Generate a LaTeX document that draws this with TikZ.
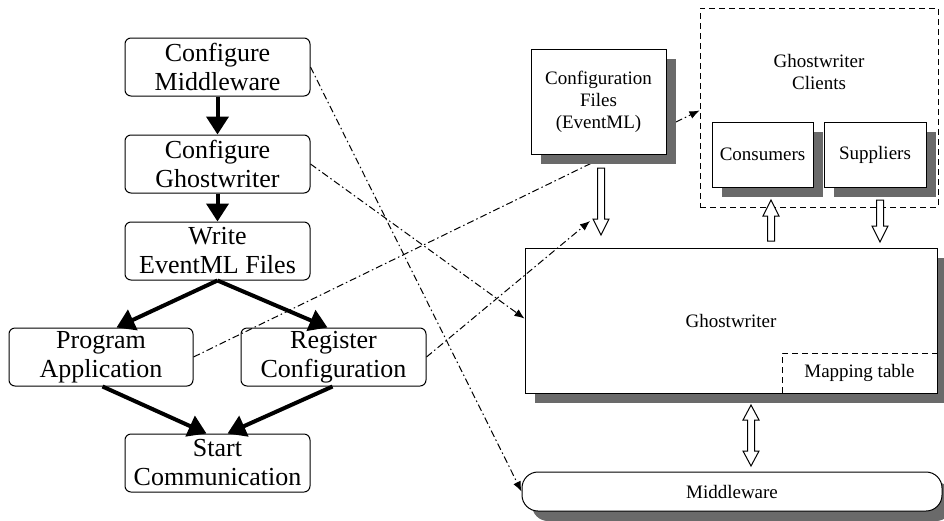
\documentclass[tikz,border=0pt]{standalone}
\usepackage{fontspec}
\setmainfont{Liberation Serif}
\usetikzlibrary{arrows.meta,calc,shadows}
\definecolor{shadowgray}{HTML}{6A6A6A}
\newcommand\hdown[3]{\draw[hollow] (#1-3.5,#2) -- (#1+3.5,#2) -- (#1+3.5,#3-16) -- (#1+8,#3-16) -- (#1,#3) -- (#1-8,#3-16) -- (#1-3.5,#3-16) -- cycle;}
\newcommand\hup[3]{\draw[hollow] (#1-3.5,#3) -- (#1+3.5,#3) -- (#1+3.5,#2+16) -- (#1+8,#2+16) -- (#1,#2) -- (#1-8,#2+16) -- (#1-3.5,#2+16) -- cycle;}
\newcommand\hboth[3]{\draw[hollow] (#1,#2) -- (#1+8,#2+15) -- (#1+3.5,#2+15) -- (#1+3.5,#3-15) -- (#1+8,#3-15) -- (#1,#3) -- (#1-8,#3-15) -- (#1-3.5,#3-15) -- (#1-3.5,#2+15) -- (#1-8,#2+15) -- cycle;}
\begin{document}
\begin{tikzpicture}[x=1pt,y=-1pt,
  lbox/.style={draw, line width=1pt, rounded corners=6pt, minimum width=185pt, minimum height=58pt, align=center, font=\fontsize{26}{29}\selectfont, inner sep=0pt},
  rtxt/.style={font=\fontsize{19}{22}\selectfont, align=center},
  shad/.style={drop shadow={shadow xshift=10pt, shadow yshift=-10pt, opacity=1, fill=shadowgray}},
  sbox/.style={draw, fill=white, line width=1pt, inner sep=0pt, rtxt, shad},
  thickarrow/.style={line width=4pt, -{Triangle[width=22pt,length=18pt]}},
  dd/.style={line width=1pt, dash pattern=on 7pt off 3pt on 1.5pt off 3pt, -{Latex[length=10pt,width=8pt]}},
  dbox/.style={draw, line width=1pt, dash pattern=on 6pt off 4pt},
  hollow/.style={draw, fill=white, line width=1pt}
]
\useasboundingbox (0,0) rectangle (944,520);
\fill[white] (0,0) rectangle (944,520);

% left flow
\node[lbox] (cm) at (217.5,67) {Configure\\Middleware};
\node[lbox] (cg) at (217.5,164) {Configure\\Ghostwriter};
\node[lbox] (we) at (217.5,251) {Write\\EventML Files};
\node[lbox, minimum width=184pt] (pa) at (101,357) {Program\\Application};
\node[lbox] (rc) at (333.5,357) {Register\\Configuration};
\node[lbox] (sc) at (217.5,463) {Start\\Communication};

\draw[thickarrow] (cm.south) -- (cg.north);
\draw[thickarrow] (cg.south) -- (we.north);
\draw[thickarrow] (we.south) -- ([xshift=108pt]pa.north west);
\draw[thickarrow] (we.south) -- ([xshift=87pt]rc.north west);
\draw[thickarrow] ([xshift=94pt]pa.south west) -- ([xshift=-11pt]sc.north);
\draw[thickarrow] ([xshift=92pt]rc.south west) -- ([xshift=10pt]sc.north);

% right side
\node[dbox, minimum width=238pt, minimum height=199pt, inner sep=0pt] (clients) at (819,107.5) {};
\node[rtxt] (clientslbl) at (819,72) {Ghostwriter\\Clients};
\node[sbox, minimum width=101pt, minimum height=65pt] (cons) at (762.5,154.5) {Consumers};
\node[sbox, minimum width=102pt, minimum height=65pt] (supp) at (875,154.5) {Suppliers};

\node[sbox, minimum width=412pt, minimum height=145pt] (gw) at (731,320.5) {Ghostwriter};
\draw[dbox] (782,393) -- (782,353) -- (937,353);
\node[rtxt] (map) at (859.5,373) {Mapping table};

\node[sbox, rounded corners=16pt, minimum width=420pt, minimum height=39pt] (mw) at (732,491.5) {Middleware};

% dash-dot connectors
\coordinate (regtip) at (590,221);
\draw[dd] (cm.east) -- (mw.west);
\draw[dd] (cg.east) -- ([yshift=2pt]gw.west);
\draw[dd] (pa.east) -- ([yshift=-3pt]clients.west);
\draw[dd] (rc.east) -- (regtip);

\node[sbox, minimum width=135pt, minimum height=105pt] (cfg) at (598.5,101.5) {Configuration\\Files\\(EventML)};

% hollow arrows
\hdown{601}{168}{235}
\hup{771}{200}{241}
\hdown{880}{200}{242}
\hboth{751}{405}{466}
\end{tikzpicture}
\end{document}
